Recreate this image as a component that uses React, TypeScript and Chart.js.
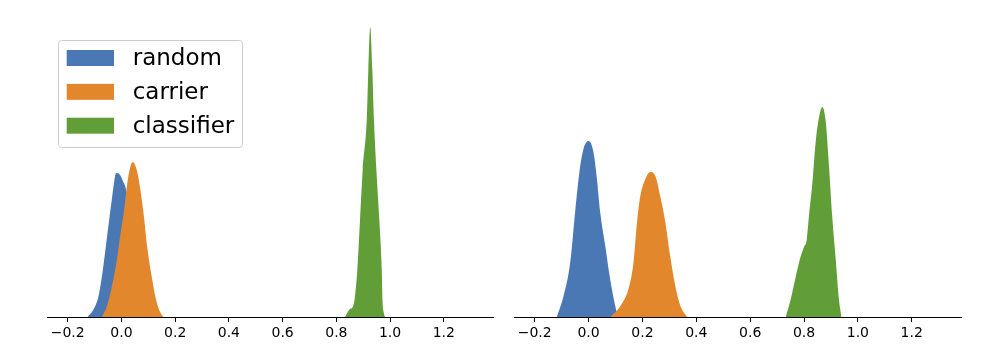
import React, { useEffect, useRef } from 'react';
import { Chart, registerables } from 'chart.js';

Chart.register(...registerables);

const SERIES_LABELS = ['random', 'carrier', 'classifier'];
const SERIES_COLORS = ['#4A78B4', '#E3872C', '#629E38'];
const TICK_VALUES = [-0.2, 0.0, 0.2, 0.4, 0.6, 0.8, 1.0, 1.2];
const X_MIN = -0.277;
const X_MAX = 1.383;
const Y_MAX = 30.5;

// Left panel
const leftRandomX = [-0.127, -0.105, -0.086, -0.073, -0.061, -0.049, -0.036, -0.026, -0.02, -0.005, 0.007, 0.016, 0.03, 0.045, 0.06, 0.075, 0.09, 0.105];
const leftRandomY = [0, 0.7, 2.0, 4.0, 6.4, 9.0, 11.7, 13.7, 14.4, 14.2, 13.5, 12.9, 10.5, 7.0, 4.0, 1.8, 0.5, 0];
const leftCarrierX = [-0.073, -0.055, -0.036, -0.017, -0.003, 0.01, 0.022, 0.032, 0.042, 0.057, 0.069, 0.084, 0.096, 0.113, 0.129, 0.144, 0.156];
const leftCarrierY = [0, 1.0, 3.0, 5.7, 8.4, 10.7, 13.4, 14.9, 15.5, 14.7, 13.0, 10.0, 7.0, 4.0, 1.7, 0.5, 0];
const leftClassifierX = [0.832, 0.836, 0.851, 0.861, 0.869, 0.878, 0.888, 0.898, 0.913, 0.919, 0.926, 0.934, 0.94, 0.949, 0.96, 0.969, 0.972, 0.976, 0.981];
const leftClassifierY = [0, 0.2, 0.8, 1.0, 2.0, 4.7, 9.7, 14.7, 19.7, 24.7, 29.0, 24.7, 19.7, 14.7, 9.7, 4.7, 1.5, 0.5, 0];

// Right panel
const rightRandomX = [-0.118, -0.093, -0.068, -0.05, -0.034, -0.019, 0.001, 0.018, 0.031, 0.043, 0.062, 0.08, 0.099, 0.108];
const rightRandomY = [0, 2.1, 5.5, 10.5, 14.5, 16.8, 17.6, 16.5, 13.8, 10.5, 7.1, 3.8, 1.1, 0];
const rightCarrierX = [0.08, 0.118, 0.148, 0.167, 0.18, 0.192, 0.211, 0.229, 0.248, 0.266, 0.285, 0.303, 0.322, 0.341, 0.366];
const rightCarrierY = [0, 1.1, 2.8, 5.5, 9.5, 12.1, 13.8, 14.5, 14.1, 12.1, 9.5, 6.1, 3.1, 1.1, 0];
const rightClassifierX = [0.732, 0.75, 0.769, 0.787, 0.8, 0.81, 0.818, 0.831, 0.843, 0.856, 0.868, 0.88, 0.893, 0.905, 0.918, 0.93, 0.939];
const rightClassifierY = [0, 1.7, 4.0, 6.0, 7.0, 7.7, 10.0, 13.4, 17.4, 20.0, 21.0, 19.7, 15.0, 10.0, 5.7, 1.7, 0];

const zip = (xs: number[], ys: number[]) => xs.map((x, i) => ({ x, y: ys[i] }));

const fmtTick = (v: number) => {
  if (Math.abs(v) < 1e-9) return '0.0';
  return v < 0 ? '\u2212' + Math.abs(v).toFixed(1) : v.toFixed(1);
};

const legendPlugin = {
  id: 'boxLegend',
  afterDraw(chart: any) {
    const ctx = chart.ctx as CanvasRenderingContext2D;
    ctx.save();
    ctx.beginPath();
    (ctx as any).roundRect(58.5, 40.5, 184, 107, 3);
    ctx.fillStyle = 'rgba(255,255,255,0.8)';
    ctx.fill();
    ctx.strokeStyle = '#cccccc';
    ctx.lineWidth = 1;
    ctx.stroke();
    ctx.font = '23px "DejaVu Sans"';
    ctx.textBaseline = 'middle';
    ctx.textAlign = 'left';
    SERIES_LABELS.forEach((lab, i) => {
      const cy = 58 + i * 33.85;
      ctx.fillStyle = SERIES_COLORS[i];
      ctx.fillRect(66.7, cy - 8, 47.3, 16);
      ctx.fillStyle = '#000000';
      ctx.fillText(lab, 132.7, cy + 1);
    });
    ctx.restore();
  },
};

function makeConfig(series: { x: number; y: number }[][], padLeft: number, padRight: number, withLegend: boolean): any {
  return {
    type: 'line',
    data: {
      datasets: series.map((pts, i) => ({
        label: SERIES_LABELS[i],
        data: pts,
        backgroundColor: SERIES_COLORS[i],
        borderColor: SERIES_COLORS[i],
        borderWidth: 0,
        pointRadius: 0,
        fill: 'origin',
        cubicInterpolationMode: 'monotone',
        order: 3 - i,
      })),
    },
    options: {
      animation: false,
      responsive: false,
      parsing: true,
      layout: { padding: { left: padLeft, right: padRight, top: 12, bottom: 0 } },
      plugins: { legend: { display: false }, tooltip: { enabled: false } },
      scales: {
        x: {
          type: 'linear',
          min: X_MIN,
          max: X_MAX,
          afterBuildTicks: (scale: any) => {
            scale.ticks = TICK_VALUES.map((v) => ({ value: v }));
          },
          afterFit: (scale: any) => {
            scale.height = 39;
          },
          ticks: {
            callback: (v: any) => fmtTick(Number(v)),
            font: { family: '"DejaVu Sans"', size: 14 },
            color: '#000000',
            padding: 3,
            maxRotation: 0,
            autoSkip: false,
          },
          grid: {
            drawOnChartArea: false,
            drawTicks: true,
            tickLength: 5,
            tickColor: '#000000',
            tickWidth: 1,
          },
          border: { display: true, color: '#000000', width: 1 },
        },
        y: {
          display: false,
          min: 0,
          max: Y_MAX,
        },
      },
    },
    plugins: withLegend ? [legendPlugin] : [],
  };
}

function Panel(props: { left: number; width: number; series: { x: number; y: number }[][]; padLeft: number; padRight: number; legend: boolean }) {
  const ref = useRef<HTMLCanvasElement | null>(null);
  useEffect(() => {
    if (!ref.current) return;
    const chart = new Chart(ref.current, makeConfig(props.series, props.padLeft, props.padRight, props.legend));
    return () => chart.destroy();
  }, []);
  return (
    <canvas
      ref={ref}
      width={props.width}
      height={356}
      style={{ position: 'absolute', left: props.left, top: 0, width: props.width, height: 356 }}
    />
  );
}

export default function App() {
  const leftSeries = [zip(leftRandomX, leftRandomY), zip(leftCarrierX, leftCarrierY), zip(leftClassifierX, leftClassifierY)];
  const rightSeries = [zip(rightRandomX, rightRandomY), zip(rightCarrierX, rightCarrierY), zip(rightClassifierX, rightClassifierY)];
  return (
    <div style={{ position: 'fixed', left: 0, top: 0, width: 1001, height: 356, background: '#ffffff' }}>
      <Panel left={0} width={500} series={leftSeries} padLeft={47} padRight={7} legend={true} />
      <Panel left={500} width={501} series={rightSeries} padLeft={14} padRight={40} legend={false} />
    </div>
  );
}
